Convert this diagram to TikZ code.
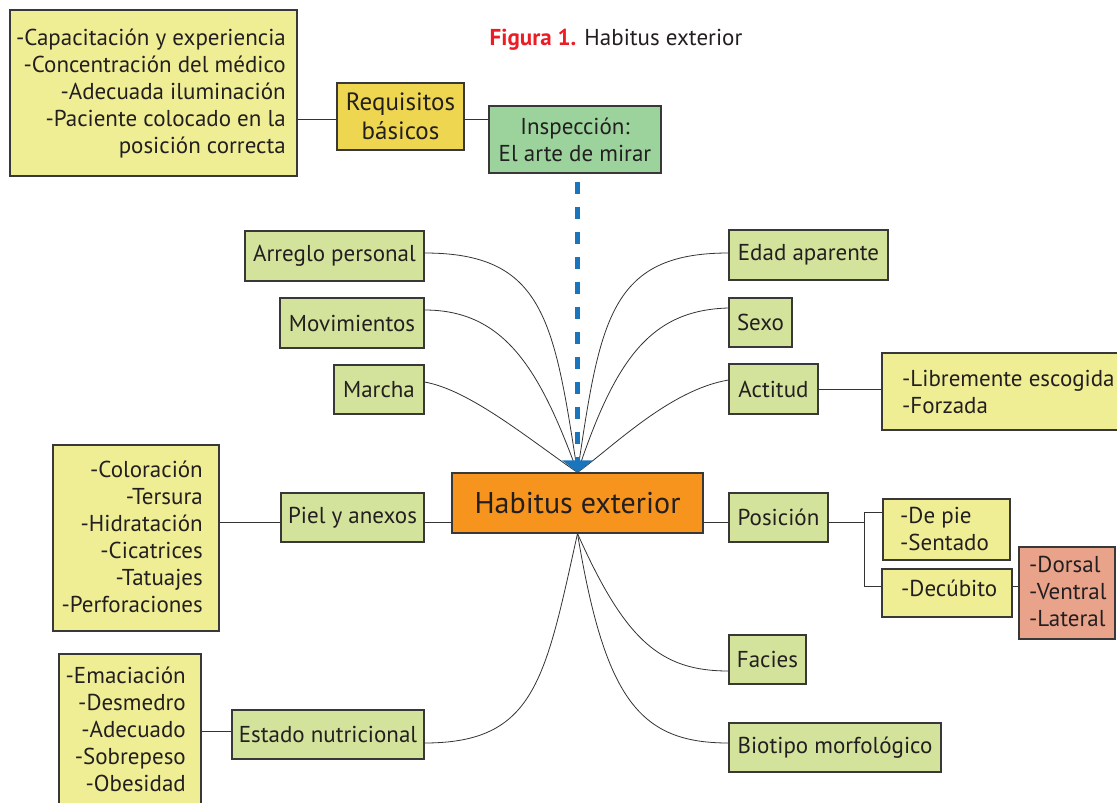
\documentclass[tikz,border=0pt]{standalone}
\usepackage{fontspec}
\setmainfont{PT Sans}
\usetikzlibrary{arrows.meta}
\definecolor{lyellow}{HTML}{F0EE95}
\definecolor{lgreen}{HTML}{D3E39B}
\definecolor{goldb}{HTML}{EFD650}
\definecolor{mgreen}{HTML}{9CD39D}
\definecolor{orangeb}{HTML}{F7941D}
\definecolor{salmon}{HTML}{E9A38A}
\definecolor{blueline}{HTML}{1B75BC}
\definecolor{figred}{HTML}{ED1C24}
\definecolor{ink}{HTML}{231F20}
\begin{document}
\begin{tikzpicture}[x=1pt,y=-1pt,
  box/.style={draw=black!78, line width=1.1pt, inner sep=0pt, text=ink,
    font=\fontsize{23}{27}\selectfont, align=center},
  lbl/.style={inner sep=0pt, text=ink, font=\fontsize{23}{27}\selectfont},
  conn/.style={draw=black!80, line width=0.8pt},
]
\useasboundingbox (0,0) rectangle (1117,803);
\fill[white] (0,0) rectangle (1117,803);

% title
\node[lbl, font=\fontsize{23}{27}\selectfont] (title) at (616,40)
  {\textcolor{figred}{\bfseries Figura 1.} Habitus exterior};

% top boxes
\node[box, fill=lyellow, minimum width=287, minimum height=166] (reqlist) at (153.5,93) {};
\node[lbl, anchor=east, align=right] (reqlistt) at (286,94)
  {-Capacitación y experiencia\\-Concentración del médico\\-Adecuada iluminación\\-Paciente colocado en la\\posición correcta};
\node[box, fill=goldb, minimum width=127, minimum height=67,
  font=\fontsize{25}{29}\selectfont] (req) at (400.5,116.5) {Requisitos\\básicos};
\node[box, fill=mgreen, minimum width=172, minimum height=67] (insp) at (575,139.5)
  {Inspección:\\El arte de mirar};

% center
\node[box, fill=orangeb, minimum width=251, minimum height=60,
  font=\fontsize{30}{36}\selectfont] (hab) at (577.5,503) {Habitus exterior};

% left green
\node[box, fill=lgreen, minimum width=179, minimum height=50] (arreglo) at (334.5,256) {Arreglo personal};
\node[box, fill=lgreen, minimum width=144, minimum height=50] (movim) at (352,323) {Movimientos};
\node[box, fill=lgreen, minimum width=90, minimum height=49] (marcha) at (379,389.5) {Marcha};
\node[box, fill=lgreen, minimum width=143, minimum height=49] (piel) at (352.5,517.5) {Piel y anexos};
\node[box, fill=lgreen, minimum width=192, minimum height=49] (estado) at (328,734.5) {Estado nutricional};

% right green
\node[box, fill=lgreen, minimum width=159, minimum height=50] (edad) at (808.5,255) {Edad aparente};
\node[box, fill=lgreen, minimum width=63, minimum height=49] (sexo) at (760.5,322.5) {Sexo};
\node[box, fill=lgreen, minimum width=89, minimum height=50] (actitud) at (773.5,389) {Actitud};
\node[box, fill=lgreen, minimum width=99, minimum height=49] (posicion) at (778.5,517.5) {Posición};
\node[box, fill=lgreen, minimum width=77, minimum height=49] (facies) at (767.5,659.5) {Facies};
\node[box, fill=lgreen, minimum width=212, minimum height=49] (biotipo) at (835,747.5) {Biotipo morfológico};

% lists
\node[box, fill=lyellow, minimum width=268, minimum height=77] (actlist) at (1016,391.5) {};
\node[lbl, anchor=west, align=left] (actlistt) at (902,391.5) {-Libremente escogida\\-Forzada};
\node[box, fill=lyellow, minimum width=127, minimum height=61] (depie) at (946.5,529.5) {};
\node[lbl, anchor=west, align=left] (depiet) at (900,528.5) {-De pie\\-Sentado};
\node[box, fill=lyellow, minimum width=130, minimum height=48] (decub) at (947,593) {};
\node[lbl, anchor=west, align=left] (decubt) at (901,588) {-Decúbito};
\node[box, fill=salmon, minimum width=96, minimum height=92] (dorsal) at (1067,593) {};
\node[lbl, anchor=west, align=left] (dorsalt) at (1029,591) {-Dorsal\\-Ventral\\-Lateral};
\node[box, fill=lyellow, minimum width=166, minimum height=186] (pielist) at (136,538) {};
\node[lbl, anchor=east, align=right] (pielistt) at (203,537)
  {-Coloración\\-Tersura\\-Hidratación\\-Cicatrices\\-Tatuajes\\-Perforaciones};
\node[box, fill=lyellow, minimum width=142, minimum height=176] (estlist) at (130,742) {};
\node[lbl, anchor=east, align=right] (estlistt) at (186,729.5)
  {-Emaciación\\-Desmedro\\-Adecuado\\-Sobrepeso\\-Obesidad};

% straight connectors
\draw[conn] ([yshift=-2.5pt]req.west) -- ([yshift=-2.5pt]req.west -| reqlist.east);
\draw[conn] ([yshift=-2.5pt]req.east) -- ([yshift=-2.5pt]req.east -| insp.west);
\draw[conn] ([yshift=-4.5pt]piel.east) -- ([yshift=-4.5pt]piel.east -| hab.west);
\draw[conn] ([yshift=-4.5pt]piel.west) -- ([yshift=-4.5pt]piel.west -| pielist.east);
\draw[conn] ([yshift=3.5pt]estado.west) -- ([yshift=3.5pt]estado.west -| estlist.east);
\draw[conn] ([yshift=-4.5pt]posicion.west) -- ([yshift=-4.5pt]posicion.west -| hab.east);
\draw[conn] (actitud.east) -- (actitud.east -| actlist.west);
\coordinate (fk) at (864,522);
\draw[conn] ([yshift=-4.5pt]posicion.east) -- (fk);
\draw[conn] ([yshift=17.5pt]depie.west) -| (fk);
\draw[conn] ([yshift=7pt]decub.west) -| (fk);
\draw[conn] ([yshift=7pt]decub.east) -- ([yshift=7pt]decub.east -| dorsal.west);

% curves to top of hab
\draw[conn] ([yshift=3pt]arreglo.east) .. controls (544,253) and (554,320) .. (hab.north);
\draw[conn] ([yshift=13pt]movim.east) .. controls (505,310) and (540,370) .. (hab.north);
\draw[conn] ([yshift=7.5pt]marcha.east) .. controls (470,390) and (530,440) .. (hab.north);
\draw[conn] ([yshift=2pt]edad.west) .. controls (610,253) and (600,320) .. (hab.north);
\draw[conn] ([yshift=14.5pt]sexo.west) .. controls (650,310) and (615,360) .. (hab.north);
\draw[conn] ([yshift=9pt]actitud.west) .. controls (670,390) and (615,445) .. (hab.north);

% curves from bottom of hab
\draw[conn] ([yshift=-8.5pt]estado.east) .. controls (535,743) and (545,680) .. (hab.south);
\draw[conn] ([yshift=-11.5pt]facies.west) .. controls (660,671) and (625,640) .. (hab.south);
\draw[conn] ([yshift=4.5pt]biotipo.west) .. controls (640,743) and (605,700) .. (hab.south);

% dashed arrow
\draw[blueline, line width=5pt, dash pattern=on 12pt off 13pt, shorten <=8pt,
  -{Triangle[width=30pt,length=12pt]}] (insp.south -| hab.north) -- (hab.north);
\end{tikzpicture}
\end{document}
